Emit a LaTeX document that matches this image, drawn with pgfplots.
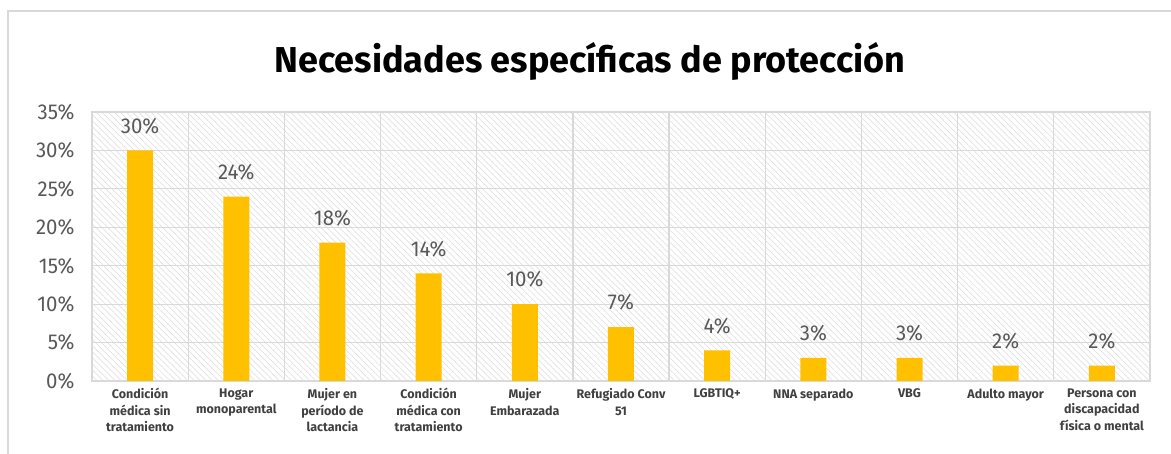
\documentclass[border=0pt]{standalone}
\usepackage{fontspec}
\setmainfont{Fira Sans}
\usepackage{pgfplots}
\pgfplotsset{compat=1.18}
\usetikzlibrary{patterns.meta}
\definecolor{bargold}{HTML}{FFC000}
\definecolor{gridgray}{HTML}{D9D9D9}
\definecolor{txtgray}{HTML}{595959}
\definecolor{lblgray}{HTML}{404040}
\begin{document}
\begin{tikzpicture}
\useasboundingbox (0,0) rectangle (1171pt,454pt);
\draw[gridgray, line width=1.2pt] (8pt,0pt) -- (8pt,443pt) -- (1171pt,443pt);
\node[font=\fontsize{36}{40}\selectfont\bfseries] at (590pt,393pt) {Necesidades específicas de protección};
\begin{axis}[
  at={(92pt,73pt)}, anchor=south west,
  width=1058pt, height=269pt, scale only axis,
  xmin=-0.5, xmax=10.5, ymin=0, ymax=35,
  axis background/.style={pattern={Lines[angle=-45,distance=4.3pt,line width=0.7pt]}, pattern color=gridgray!80},
  axis line style={gridgray, line width=1.2pt},
  ytick={0,5,...,35},
  yticklabel={\pgfmathprintnumber{\tick}\%},
  /pgf/number format/assume math mode=true,
  yticklabel style={font=\fontsize{21.5}{23}\selectfont\addfontfeatures{FakeStretch=0.95}, text=txtgray, xshift=-14pt},
  ymajorgrids, major grid style={gridgray, line width=1.2pt},
  xtick={0,...,10},
  minor xtick={-0.5,0.5,...,10.5},
  xminorgrids, minor grid style={gridgray, line width=1.2pt},
  major tick length=0pt, minor tick length=0pt,
  xticklabels={{Condición\\médica sin\\tratamiento},{Hogar\\monoparental},{Mujer en\\período de\\lactancia},{Condición\\médica con\\tratamiento},{Mujer\\Embarazada},{Refugiado Conv\\51},{LGBTIQ+},{NNA separado},{VBG},{Adulto mayor},{Persona con\\discapacidad\\física o mental}},
  xticklabel style={font=\fontsize{12.5}{16.5}\selectfont\bfseries, text=lblgray, align=center, yshift=-4pt},
  ybar, bar width=26pt,
  nodes near coords={\pgfmathprintnumber{\pgfplotspointmeta}\%},
  nodes near coords style={font=\fontsize{21.5}{23}\selectfont\addfontfeatures{FakeStretch=0.95}, text=txtgray, anchor=south, yshift=13pt},
]
\addplot[fill=bargold, draw=none] coordinates {(0,30) (1,24) (2,18) (3,14) (4,10) (5,7) (6,4) (7,3) (8,3) (9,2) (10,2)};
\end{axis}
\end{tikzpicture}
\end{document}
